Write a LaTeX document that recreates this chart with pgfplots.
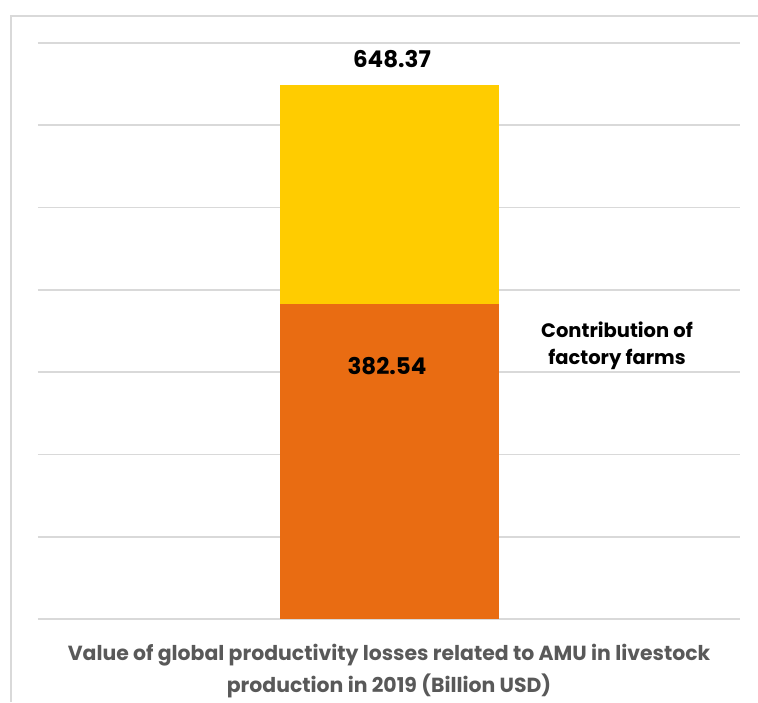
\documentclass[border=0pt]{standalone}
\usepackage{pgfplots}
\pgfplotsset{compat=1.18}
\usepackage{fontspec}
\setmainfont{Poppins}
\definecolor{gridgray}{HTML}{D9D9D9}
\definecolor{barorange}{HTML}{E96C12}
\definecolor{baryellow}{HTML}{FFCC00}
\definecolor{titlegray}{HTML}{595959}
\begin{document}
\begin{tikzpicture}
\draw[gridgray, line width=1.5pt] (11pt,0pt) -- (11pt,686pt) -- (758pt,686pt);
\begin{axis}[
  at={(38pt,83pt)}, anchor=south west,
  scale only axis, width=702pt, height=576pt,
  xmin=-1, xmax=1, ymin=0, ymax=700,
  ybar stacked, bar width=219pt,
  axis line style={draw=none},
  xtick=\empty, ytick={0,100,...,700}, yticklabels={},
  major tick length=0pt,
  ymajorgrids, grid style={gridgray, line width=1.7pt},
  clip=false,
]
\addplot[fill=barorange, draw=none] coordinates {(0,382.54)};
\addplot[fill=baryellow, draw=none] coordinates {(0,265.83)};
\end{axis}
\node[anchor=base, font=\fontsize{23}{27}\selectfont\bfseries] at (392pt,634pt) {648.37};
\node[anchor=base, font=\fontsize{23}{27}\selectfont\bfseries] at (387pt,327pt) {382.54};
\node[anchor=base, font=\fontsize{19.5}{23}\selectfont\bfseries] at (617pt,364pt) {Contribution of};
\node[anchor=base, font=\fontsize{19.5}{23}\selectfont\bfseries] at (617pt,337pt) {factory farms};
\node[anchor=base, text=titlegray, font=\fontsize{20.4}{24}\selectfont\bfseries] at (389pt,42pt) {Value of global productivity losses related to AMU in livestock};
\node[anchor=base, text=titlegray, font=\fontsize{20.4}{24}\selectfont\bfseries] at (389pt,10pt) {production in 2019 (Billion USD)};
\pgfresetboundingbox
\useasboundingbox (0pt,0pt) rectangle (758pt,702pt);
\end{tikzpicture}
\end{document}
